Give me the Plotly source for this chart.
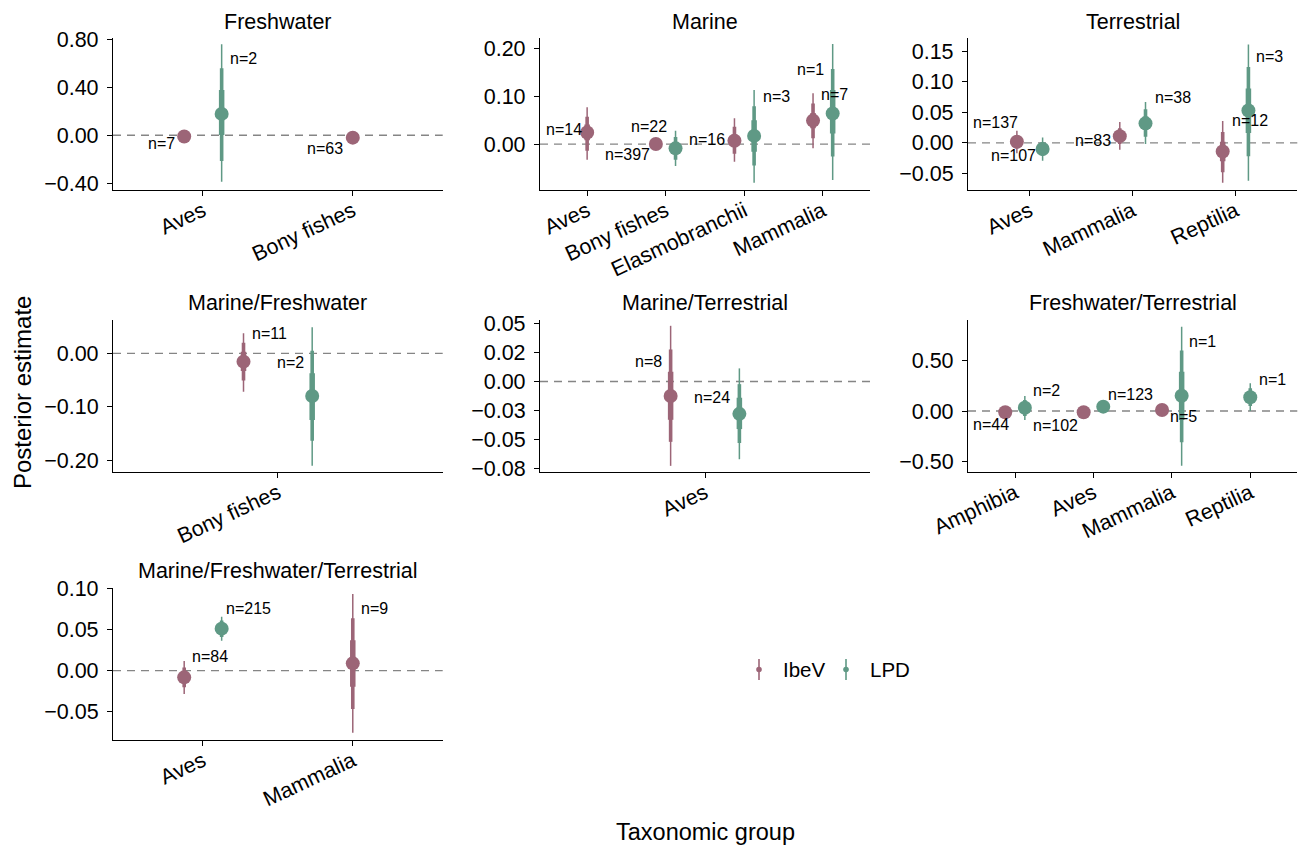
import plotly.graph_objects as go

# ---------------- data (long format) ----------------
panel_names = ["Freshwater", "Marine", "Terrestrial",
               "Marine/Freshwater", "Marine/Terrestrial", "Freshwater/Terrestrial",
               "Marine/Freshwater/Terrestrial"]

row_panel = ["Freshwater"] * 3 + ["Marine"] * 7 + ["Terrestrial"] * 6 + \
            ["Marine/Freshwater"] * 2 + ["Marine/Terrestrial"] * 2 + \
            ["Freshwater/Terrestrial"] * 7 + ["Marine/Freshwater/Terrestrial"] * 3
row_group = ["Aves", "Aves", "Bony fishes",
             "Aves", "Bony fishes", "Bony fishes", "Elasmobranchii", "Elasmobranchii", "Mammalia", "Mammalia",
             "Aves", "Aves", "Mammalia", "Mammalia", "Reptilia", "Reptilia",
             "Bony fishes", "Bony fishes",
             "Aves", "Aves",
             "Amphibia", "Amphibia", "Aves", "Aves", "Mammalia", "Mammalia", "Reptilia",
             "Aves", "Aves", "Mammalia"]
row_source = ["IbeV", "LPD", "IbeV",
              "IbeV", "IbeV", "LPD", "IbeV", "LPD", "IbeV", "LPD",
              "IbeV", "LPD", "IbeV", "LPD", "IbeV", "LPD",
              "IbeV", "LPD",
              "IbeV", "LPD",
              "IbeV", "LPD", "IbeV", "LPD", "IbeV", "LPD", "LPD",
              "IbeV", "LPD", "IbeV"]
estimate = [-0.010, 0.178, -0.020,
            0.024, 0.000, -0.009, 0.007, 0.017, 0.049, 0.064,
            0.002, -0.010, 0.011, 0.032, -0.014, 0.053,
            -0.0156, -0.080,
            -0.0125, -0.0279,
            -0.013, 0.033, -0.013, 0.043, 0.010, 0.152, 0.136,
            -0.0081, 0.051, 0.0089]
lo95 = [-0.035, -0.387, -0.040,
        -0.033, -0.006, -0.046, -0.037, -0.081, -0.009, -0.075,
        -0.017, -0.029, -0.011, -0.002, -0.065, -0.062,
        -0.072, -0.211,
        -0.0727, -0.067,
        -0.040, -0.089, -0.035, 0.020, -0.012, -0.543, 0.000,
        -0.0283, 0.0364, -0.0752]
hi95 = [0.015, 0.759, 0.000,
        0.077, 0.006, 0.028, 0.054, 0.113, 0.106, 0.209,
        0.020, 0.009, 0.034, 0.067, 0.036, 0.161,
        0.0375, 0.049,
        0.048, 0.0113,
        0.015, 0.149, 0.010, 0.066, 0.032, 0.838, 0.275,
        0.0117, 0.0655, 0.093]
lo80 = [-0.027, -0.214, -0.033,
        -0.014, -0.004, -0.033, -0.020, -0.045, 0.012, -0.026,
        -0.009, -0.021, -0.002, 0.010, -0.048, -0.022,
        -0.051, -0.164,
        -0.052, -0.053,
        -0.030, -0.050, -0.027, 0.028, -0.004, -0.311, 0.050,
        -0.020, 0.041, -0.0465]
hi80 = [0.007, 0.558, -0.007,
        0.057, 0.004, 0.015, 0.036, 0.079, 0.085, 0.157,
        0.012, 0.001, 0.024, 0.055, 0.018, 0.124,
        0.020, 0.005,
        0.0276, -0.0023,
        0.005, 0.110, 0.002, 0.058, 0.024, 0.600, 0.225,
        0.004, 0.061, 0.0635]
lo50 = [-0.018, 0.003, -0.026,
        0.008, -0.002, -0.019, -0.006, -0.016, 0.033, 0.022,
        -0.004, -0.015, 0.004, 0.021, -0.030, 0.016,
        -0.033, -0.125,
        -0.033, -0.041,
        -0.022, -0.010, -0.020, 0.035, 0.003, -0.090, 0.090,
        -0.014, 0.046, -0.0194]
hi50 = [-0.002, 0.378, -0.014,
        0.041, 0.002, 0.002, 0.020, 0.050, 0.065, 0.113,
        0.007, -0.005, 0.018, 0.043, 0.002, 0.089,
        0.003, -0.0375,
        0.0084, -0.014,
        -0.004, 0.075, -0.006, 0.051, 0.017, 0.390, 0.180,
        -0.002, 0.056, 0.037]
n_label = ["n=7", "n=2", "n=63",
           "n=14", "n=22", "n=397", "n=16", "n=3", "n=1", "n=7",
           "n=137", "n=107", "n=83", "n=38", "n=12", "n=3",
           "n=11", "n=2",
           "n=8", "n=24",
           "n=44", "n=2", "n=102", "n=123", "n=5", "n=1", "n=1",
           "n=84", "n=215", "n=9"]

# y axis settings per panel
y_ranges = [[-0.456, 0.808], [-0.096, 0.221], [-0.077, 0.171],
            [-0.2225, 0.0625], [-0.078, 0.053], [-0.606, 0.904], [-0.0841, 0.1007]]
y_ticks = [[-0.4, 0.0, 0.4, 0.8], [0.0, 0.1, 0.2], [-0.05, 0.0, 0.05, 0.10, 0.15],
           [-0.2, -0.1, 0.0], [-0.075, -0.05, -0.025, 0.0, 0.025, 0.05], [-0.5, 0.0, 0.5],
           [-0.05, 0.0, 0.05, 0.10]]
y_ticktext = [None, None, None, None,
              ["\u22120.08", "\u22120.05", "\u22120.03", "0.00", "0.02", "0.05"], None, None]

# ---------------- style / layout ----------------
colors = {"IbeV": "#9C6577", "LPD": "#5F9985"}
sources = ["IbeV", "LPD"]
# label offsets (px) relative to the point
label_dx = [-23, 22, -28,
            -23, -7, -48, -27, 22, -3, 2,
            -21, -29, -27, 27, 27, 21,
            26, -22,
            -22, -27,
            -14, 22, -28, 27, 21, 21, 22,
            26, 27, 22]
label_dy = [-7, 55, -11,
            3, 18, -6, 1, 39, 51, 19,
            19, -6, -4, 26, 31, 54,
            28, 34,
            35, 16,
            -12, 17, -13, 12, -7, 54, 18,
            21, 20, 55]

W, H = 1304, 847
col_px = [(113, 442.7), (540, 870), (968, 1297.3)]
row_px = [(38.3, 190), (320, 472), (587.7, 740)]
FONT = "Liberation Sans, Arial, sans-serif"
TICK_SIZE = 21.5

def px_x(p):
    return p / W

def px_y(p):
    return 1 - p / H

fig = go.Figure()
annotations = []
shapes = []
layout_axes = {}

dodge = 0.125
widths = [("95", 1.5), ("80", 3.6), ("50", 5.5)]

for k, pname in enumerate(panel_names):
    idx = [i for i, p in enumerate(row_panel) if p == pname]
    cats = sorted(set(row_group[i] for i in idx))
    r, c = divmod(k, 3)
    ax = "" if k == 0 else str(k + 1)
    xa, ya = "x" + ax, "y" + ax
    # positions with dodge
    xpos = {}
    for i in idx:
        g = row_group[i]
        cnt = sum(1 for j in idx if row_group[j] == g)
        base = cats.index(g) + 1
        if cnt == 2:
            xpos[i] = base + (-dodge if row_source[i] == "IbeV" else dodge)
        else:
            xpos[i] = base
    # zero reference line
    shapes.append(dict(type="line", xref=xa + " domain", yref=ya, x0=0, x1=1, y0=0, y1=0,
                       line=dict(color="#858585", width=1.3, dash="8px,6px"), layer="below"))
    for s in sources:
        sidx = [i for i in idx if row_source[i] == s]
        if not sidx:
            continue
        for lev, w in widths:
            lo = {"95": lo95, "80": lo80, "50": lo50}[lev]
            hi = {"95": hi95, "80": hi80, "50": hi50}[lev]
            xs, ys = [], []
            for i in sidx:
                xs += [xpos[i], xpos[i], None]
                ys += [lo[i], hi[i], None]
            fig.add_trace(go.Scatter(x=xs, y=ys, mode="lines", xaxis=xa, yaxis=ya,
                                     line=dict(color=colors[s], width=w),
                                     showlegend=False, hoverinfo="skip"))
        fig.add_trace(go.Scatter(x=[xpos[i] for i in sidx], y=[estimate[i] for i in sidx],
                                 mode="markers", xaxis=xa, yaxis=ya,
                                 marker=dict(color=colors[s], size=14, line=dict(width=0)),
                                 showlegend=False, name=s))
    for i in idx:
        annotations.append(dict(x=xpos[i], y=estimate[i], xref=xa, yref=ya, text=n_label[i],
                                showarrow=False, xshift=label_dx[i], yshift=label_dy[i],
                                font=dict(size=16, color="black", family=FONT)))
    x0, x1 = col_px[c]
    y0, y1 = row_px[r]
    xaxis = dict(domain=[px_x(x0), px_x(x1)], range=[0.4, len(cats) + 0.6],
                 tickvals=list(range(1, len(cats) + 1)), ticktext=cats, tickangle=-25,
                 showline=True, linecolor="black", linewidth=1.2, ticks="outside",
                 ticklen=5, tickwidth=1.2, tickcolor="black", showgrid=False, zeroline=False,
                 anchor=ya, automargin=False, ticklabelstandoff=-6,
                 tickfont=dict(size=TICK_SIZE, color="black", family=FONT))
    yaxis = dict(domain=[px_y(y1), px_y(y0)], range=y_ranges[k], tickvals=y_ticks[k],
                 tickformat=".2f", showline=True, linecolor="black", linewidth=1.2,
                 ticks="outside", ticklen=5, tickwidth=1.2, tickcolor="black",
                 showgrid=False, zeroline=False, anchor=xa, automargin=False,
                 ticklabelstandoff=4,
                 tickfont=dict(size=TICK_SIZE, color="black", family=FONT))
    if y_ticktext[k] is not None:
        yaxis["ticktext"] = y_ticktext[k]
    layout_axes["xaxis" + ax] = xaxis
    layout_axes["yaxis" + ax] = yaxis
    # strip title
    annotations.append(dict(x=px_x((x0 + x1) / 2), y=px_y(y0 - 16.5), xref="paper", yref="paper",
                            text=pname, showarrow=False, xanchor="center", yanchor="middle",
                            font=dict(size=21.5, color="black", family=FONT)))

# axis titles
annotations.append(dict(x=px_x(705), y=px_y(832), xref="paper", yref="paper", text="Taxonomic group",
                        showarrow=False, xanchor="center", yanchor="middle",
                        font=dict(size=23.5, color="black", family=FONT)))
annotations.append(dict(x=px_x(22), y=px_y(393), xref="paper", yref="paper", text="Posterior estimate",
                        showarrow=False, xanchor="center", yanchor="middle", textangle=-90,
                        font=dict(size=24, color="black", family=FONT)))

# legend (manual, pointinterval glyphs)
legend_x = [759, 846]
for s, lx in zip(sources, legend_x):
    shapes.append(dict(type="line", xref="paper", yref="paper", x0=px_x(lx), x1=px_x(lx),
                       y0=px_y(659), y1=px_y(680), line=dict(color=colors[s], width=1.6)))
    shapes.append(dict(type="circle", xref="paper", yref="paper", x0=px_x(lx - 2.8), x1=px_x(lx + 2.8),
                       y0=px_y(672.3), y1=px_y(666.7), fillcolor=colors[s], line=dict(width=0)))
    annotations.append(dict(x=px_x(lx + 22), y=px_y(669.5), xref="paper", yref="paper", text=s,
                            showarrow=False, xanchor="left", yanchor="middle",
                            font=dict(size=20.5, color="black", family=FONT)))

fig.update_layout(width=W, height=H, margin=dict(l=0, r=0, t=0, b=0),
                  paper_bgcolor="white", plot_bgcolor="white", showlegend=False,
                  annotations=annotations, shapes=shapes, **layout_axes)
fig.write_html("out.html", config={"displayModeBar": False},
               post_script="document.body.style.margin='0';document.body.style.overflow='hidden';")
